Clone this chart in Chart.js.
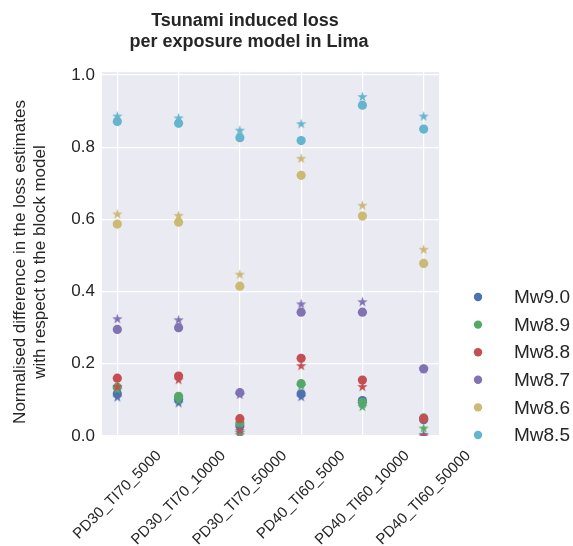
<!DOCTYPE html>
<html>
<head>
<meta charset="utf-8">
<script src="https://cdn.jsdelivr.net/npm/chart.js@4.4.1/dist/chart.umd.min.js"></script>
<style>
  html, body { margin: 0; padding: 0; background: #ffffff; }
  #wrap { width: 573px; height: 546px; }
</style>
</head>
<body>
<div id="wrap"><canvas id="lossChart" width="573" height="546"></canvas></div>
<script>
// exposure models on the x axis
const categories = [
  "PD30_TI70_5000",
  "PD30_TI70_10000",
  "PD30_TI70_50000",
  "PD40_TI60_5000",
  "PD40_TI60_10000",
  "PD40_TI60_50000",
];

const magnitudes = ["Mw9.0", "Mw8.9", "Mw8.8", "Mw8.7", "Mw8.6", "Mw8.5"];

// seaborn "deep" palette
const colors = ["#4C72B0", "#55A868", "#C44E52", "#8172B2", "#CCB974", "#64B5CD"];

const yTicks = [0, 0.2, 0.4, 0.6, 0.8, 1.0];

// circles: first loss estimate per scenario
const mw90Circle = [0.117, 0.101, 0.028, 0.117, 0.098, 0.045];
const mw89Circle = [0.135, 0.110, 0.036, 0.145, 0.093, 0.050];
const mw88Circle = [0.160, 0.166, 0.048, 0.215, 0.155, 0.048];
const mw87Circle = [0.295, 0.300, 0.120, 0.343, 0.343, 0.186];
const mw86Circle = [0.587, 0.592, 0.415, 0.722, 0.609, 0.478];
const mw85Circle = [0.871, 0.866, 0.826, 0.818, 0.916, 0.850];

// stars: second loss estimate per scenario
const mw90Star = [0.108, 0.092, 0.010, 0.109, 0.090, 0.004];
const mw89Star = [0.130, 0.100, 0.004, 0.140, 0.082, 0.022];
const mw88Star = [0.137, 0.156, 0.015, 0.195, 0.137, 0.000];
const mw87Star = [0.325, 0.322, 0.115, 0.366, 0.372, 0.186];
const mw86Star = [0.615, 0.611, 0.448, 0.769, 0.639, 0.517];
const mw85Star = [0.886, 0.881, 0.847, 0.865, 0.940, 0.886];

const circleSeries = [mw90Circle, mw89Circle, mw88Circle, mw87Circle, mw86Circle, mw85Circle];
const starSeries = [mw90Star, mw89Star, mw88Star, mw87Star, mw86Star, mw85Star];

const yTitle = ["Normalised difference in the loss estimates", "with respect to the block model"];

const FONT = "'Liberation Sans', Arial, sans-serif";
const TEXT = "#262626";

// filled five point star, chart.js "star" is only an asterisk
const starImage = (color, r) => {
  const size = Math.ceil(r * 2 + 2);
  const c = document.createElement("canvas");
  c.width = size;
  c.height = size;
  const g = c.getContext("2d");
  g.translate(size / 2, size / 2 + 0.5);
  g.beginPath();
  for (let i = 0; i < 10; i++) {
    const rad = i % 2 ? r * 0.382 : r;
    const a = -Math.PI / 2 + (i * Math.PI) / 5;
    g.lineTo(rad * Math.cos(a), rad * Math.sin(a));
  }
  g.closePath();
  g.fillStyle = color;
  g.fill();
  return c;
};

const toPoints = (values) => values.map((v, i) => ({ x: i, y: v }));

const datasets = [];
magnitudes.forEach((label, m) => {
  datasets.push({
    label: label,
    data: toPoints(circleSeries[m]),
    backgroundColor: colors[m],
    borderColor: colors[m],
    borderWidth: 0,
    pointRadius: 4.6,
    pointStyle: "circle",
    clip: 0,
    order: 100 - 2 * m,
  });
  datasets.push({
    label: label + " star",
    data: toPoints(starSeries[m]),
    backgroundColor: colors[m],
    pointStyle: starImage(colors[m], 5.4),
    clip: 0,
    order: 99 - 2 * m,
  });
});

// title, axis title, rotated category labels and legend drawn on the canvas
const decorations = {
  id: "decorations",
  afterDraw(chart) {
    const ctx = chart.ctx;
    const xScale = chart.scales.x;
    ctx.save();

    ctx.fillStyle = TEXT;
    ctx.textAlign = "center";
    ctx.textBaseline = "middle";
    ctx.font = "bold 18px " + FONT;
    ctx.fillText("Tsunami induced loss", 245, 21);
    ctx.fillText("per exposure model in Lima", 249, 42);

    ctx.font = "17px " + FONT;
    yTitle.forEach((line, i) => {
      ctx.save();
      ctx.translate(20 + i * 20, 262);
      ctx.rotate(-Math.PI / 2);
      ctx.fillText(line, 0, 0);
      ctx.restore();
    });

    ctx.font = "15px " + FONT;
    categories.forEach((name, i) => {
      const w = ctx.measureText(name).width;
      const h = 15;
      const boxH = (w + h) * Math.SQRT1_2;
      const x = xScale.getPixelForValue(i);
      const y = chart.chartArea.bottom + 12 + boxH / 2;
      ctx.save();
      ctx.translate(x, y);
      ctx.rotate(-Math.PI / 4);
      ctx.fillText(name, 0, 0);
      ctx.restore();
    });

    ctx.font = "19px " + FONT;
    ctx.textAlign = "left";
    magnitudes.forEach((label, m) => {
      const y = 297 + m * 27.6;
      ctx.beginPath();
      ctx.arc(478, y, 4.2, 0, Math.PI * 2);
      ctx.fillStyle = colors[m];
      ctx.fill();
      ctx.fillStyle = TEXT;
      ctx.fillText(label, 514, y + 1);
    });

    ctx.restore();
  },
};

// axes background like the seaborn darkgrid style
const plotBackground = {
  id: "plotBackground",
  beforeDraw(chart) {
    const { ctx, chartArea } = chart;
    ctx.save();
    ctx.fillStyle = "#EAEAF2";
    ctx.fillRect(chartArea.left, chartArea.top, chartArea.right - chartArea.left, chartArea.bottom - chartArea.top);
    ctx.restore();
  },
};

new Chart(document.getElementById("lossChart"), {
  type: "scatter",
  data: { datasets: datasets },
  options: {
    responsive: false,
    animation: false,
    devicePixelRatio: 1,
    layout: { padding: { top: 72, right: 134, left: 0, bottom: 0 } },
    plugins: {
      legend: { display: false },
      tooltip: { enabled: false },
    },
    scales: {
      x: {
        type: "linear",
        min: -0.25,
        max: 5.25,
        afterBuildTicks: (scale) => {
          scale.ticks = categories.map((c, i) => ({ value: i }));
        },
        afterFit: (scale) => {
          scale.height = 110;
        },
        ticks: { display: false },
        grid: { color: "#ffffff", lineWidth: 1.2, drawTicks: false },
        border: { display: false },
      },
      y: {
        min: 0,
        max: 1.008,
        afterBuildTicks: (scale) => {
          scale.ticks = yTicks.map((v) => ({ value: v }));
        },
        afterFit: (scale) => {
          scale.width = 102;
        },
        ticks: {
          color: TEXT,
          padding: 7,
          font: { family: FONT, size: 17 },
          callback: (v) => v.toFixed(1),
        },
        grid: { color: "#ffffff", lineWidth: 1.2, drawTicks: false },
        border: { display: false },
      },
    },
  },
  plugins: [plotBackground, decorations],
});
</script>
</body>
</html>
